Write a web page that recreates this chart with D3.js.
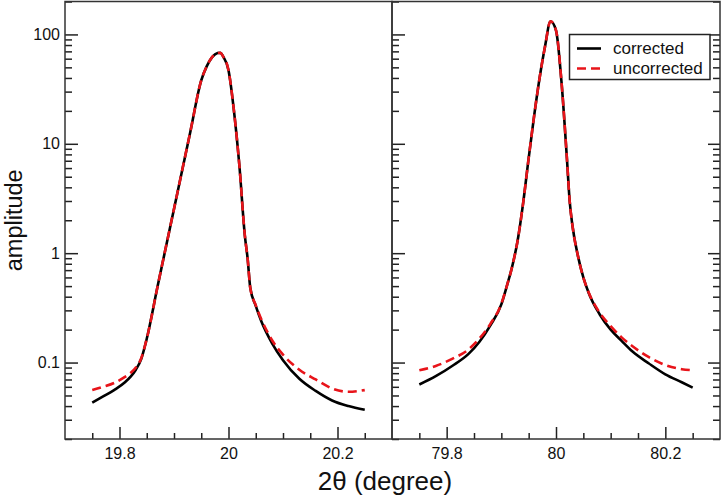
<!DOCTYPE html>
<html>
<head>
<meta charset="utf-8">
<script src="https://cdn.jsdelivr.net/npm/d3@7"></script>
<style>
  html, body { margin: 0; padding: 0; background: #fff; }
  svg { display: block; font-family: "Liberation Sans", Arial, Helvetica, sans-serif; }
</style>
</head>
<body>
<svg id="chart" width="722" height="502"></svg>
<script>
// ---- data ----
const leftAngles = [19.75, 19.77, 19.79, 19.81, 19.82, 19.83, 19.84, 19.85, 19.87, 19.90, 19.93, 19.95, 19.96, 19.97, 19.98, 19.985, 19.99, 20.00, 20.01, 20.02, 20.03, 20.035, 20.04, 20.05, 20.06, 20.08, 20.10, 20.13, 20.16, 20.19, 20.22, 20.25];
const leftCorrected = [0.043, 0.049, 0.056, 0.066, 0.074, 0.086, 0.108, 0.165, 0.50, 2.54, 12.9, 38, 51, 62, 67.6, 68, 63, 47, 20, 6.3, 1.45, 0.9, 0.48, 0.33, 0.24, 0.15, 0.105, 0.071, 0.055, 0.045, 0.040, 0.037];
const leftUncorrected = [0.056, 0.060, 0.065, 0.074, 0.080, 0.090, 0.110, 0.165, 0.50, 2.54, 12.9, 38, 51, 62, 67.6, 68, 63, 47, 20, 6.3, 1.45, 0.9, 0.48, 0.335, 0.25, 0.16, 0.118, 0.086, 0.070, 0.058, 0.054, 0.056];

const rightAngles = [79.75, 79.78, 79.81, 79.84, 79.86, 79.88, 79.90, 79.91, 79.92, 79.93, 79.94, 79.95, 79.96, 79.97, 79.98, 79.99, 80.00, 80.01, 80.02, 80.025, 80.03, 80.04, 80.05, 80.06, 80.08, 80.10, 80.12, 80.14, 80.17, 80.20, 80.23, 80.25];
const rightCorrected = [0.063, 0.075, 0.093, 0.12, 0.155, 0.219, 0.34, 0.50, 0.76, 1.32, 2.9, 7.4, 18, 40, 78, 132, 109, 37, 7.3, 3.0, 1.8, 0.95, 0.6, 0.43, 0.275, 0.20, 0.158, 0.126, 0.098, 0.078, 0.066, 0.059];
const rightUncorrected = [0.085, 0.093, 0.108, 0.132, 0.166, 0.226, 0.345, 0.50, 0.76, 1.32, 2.9, 7.4, 18, 40, 78, 132, 109, 37, 7.3, 3.0, 1.8, 0.95, 0.6, 0.435, 0.285, 0.215, 0.17, 0.141, 0.112, 0.095, 0.087, 0.085];

const yMajorTicks = [0.1, 1, 10, 100];
const yTickLabels = ["0.1", "1", "10", "100"];
const leftXTicks = [19.8, 20, 20.2];
const leftXTickLabels = ["19.8", "20", "20.2"];
const rightXTicks = [79.8, 80, 80.2];
const rightXTickLabels = ["79.8", "80", "80.2"];
const seriesNames = ["corrected", "uncorrected"];
const xTitle = "2\u03b8 (degree)";
const yTitle = "amplitude";

// ---- layout ----
const svg = d3.select("#chart");
const plotTop = 1.5, plotBottom = 439;
const leftPanel = { x0: 65, x1: 392, domain: [19.7, 20.3] };
const rightPanel = { x0: 392, x1: 720, domain: [79.7, 80.3] };
const red = "#e8141a";

const y = d3.scaleLog().domain([0.02, 200]).range([plotBottom, plotTop]);
const yAll = y.ticks();
const isMajor = v => Math.abs(Math.log10(v) - Math.round(Math.log10(v))) < 1e-9;
const yMinor = yAll.filter(v => !isMajor(v));

function styleAxis(g) {
  g.select(".domain").remove();
  g.selectAll(".tick line").attr("stroke", "#222").attr("stroke-width", 1.5);
  g.selectAll(".tick text").attr("fill", "#111").style("font-size", "16px")
    .style("font-family", "'Liberation Sans', Arial, sans-serif");
}

function drawPanel(p, xs, ysC, ysU, majorX, majorLabels, opts) {
  const x = d3.scaleLinear().domain(p.domain).range([p.x0, p.x1]);
  const g = svg.append("g");

  const xAll = x.ticks(12);
  const xMinor = xAll.filter(v => v > p.domain[0] + 1e-9 && v < p.domain[1] - 1e-9 &&
    !majorX.some(m => Math.abs(m - v) < 1e-9));

  g.append("g").attr("transform", `translate(0,${plotBottom})`)
    .call(d3.axisBottom(x).tickValues(majorX).tickSize(-12).tickPadding(9)
      .tickFormat((d, i) => majorLabels[i]))
    .call(styleAxis);
  g.append("g").attr("transform", `translate(0,${plotBottom})`)
    .call(d3.axisBottom(x).tickValues(xMinor).tickSize(-6).tickFormat(""))
    .call(styleAxis);

  g.append("g").attr("transform", `translate(${p.x0},0)`)
    .call(d3.axisLeft(y).tickValues(yMajorTicks).tickSize(-13).tickPadding(5)
      .tickFormat((d, i) => opts.yLabels ? yTickLabels[i] : ""))
    .call(styleAxis);
  g.append("g").attr("transform", `translate(${p.x0},0)`)
    .call(d3.axisLeft(y).tickValues(yMinor).tickSize(-7).tickFormat(""))
    .call(styleAxis);

  if (opts.rightTicks) {
    g.append("g").attr("transform", `translate(${p.x1},0)`)
      .call(d3.axisRight(y).tickValues(yMajorTicks).tickSize(-12).tickFormat(""))
      .call(styleAxis);
    g.append("g").attr("transform", `translate(${p.x1},0)`)
      .call(d3.axisRight(y).tickValues(yMinor).tickSize(-7).tickFormat(""))
      .call(styleAxis);
  }

  const line = d3.line().x(d => x(d[0])).y(d => y(d[1])).curve(d3.curveMonotoneX);
  g.append("path").datum(xs.map((v, i) => [v, ysC[i]]))
    .attr("d", line).attr("fill", "none").attr("stroke", "#000").attr("stroke-width", 2.6);
  g.append("path").datum(xs.map((v, i) => [v, ysU[i]]))
    .attr("d", line).attr("fill", "none").attr("stroke", red).attr("stroke-width", 2.6)
    .attr("stroke-dasharray", "9,5");

  g.append("rect").attr("x", p.x0).attr("y", plotTop)
    .attr("width", p.x1 - p.x0).attr("height", plotBottom - plotTop)
    .attr("fill", "none").attr("stroke", "#333").attr("stroke-width", 1.5);
}

drawPanel(leftPanel, leftAngles, leftCorrected, leftUncorrected, leftXTicks, leftXTickLabels,
  { yLabels: true, rightTicks: false });
drawPanel(rightPanel, rightAngles, rightCorrected, rightUncorrected, rightXTicks, rightXTickLabels,
  { yLabels: false, rightTicks: true });

svg.append("text").attr("x", 385).attr("y", 490).attr("text-anchor", "middle")
  .style("font-size", "26px").attr("fill", "#111").text(xTitle);
svg.append("text").attr("transform", `translate(21.5,${(plotTop + plotBottom) / 2}) rotate(-90)`)
  .attr("text-anchor", "middle").style("font-size", "23.5px").attr("fill", "#111").text(yTitle);

const lg = svg.append("g");
lg.append("rect").attr("x", 569.5).attr("y", 34.5).attr("width", 140.5).attr("height", 45)
  .attr("fill", "#fff").attr("stroke", "#222").attr("stroke-width", 1.5);
const legendStyles = [{ color: "#000", dash: null }, { color: red, dash: "9,5" }];
seriesNames.forEach((name, i) => {
  const yy = 48.5 + i * 20;
  lg.append("line").attr("x1", 577).attr("x2", 601).attr("y1", yy).attr("y2", yy)
    .attr("stroke", legendStyles[i].color).attr("stroke-width", 2.6)
    .attr("stroke-dasharray", legendStyles[i].dash);
  lg.append("text").attr("x", 613).attr("y", yy).attr("dy", "0.35em")
    .style("font-size", "17px").attr("fill", "#111").text(name);
});
</script>
</body>
</html>
